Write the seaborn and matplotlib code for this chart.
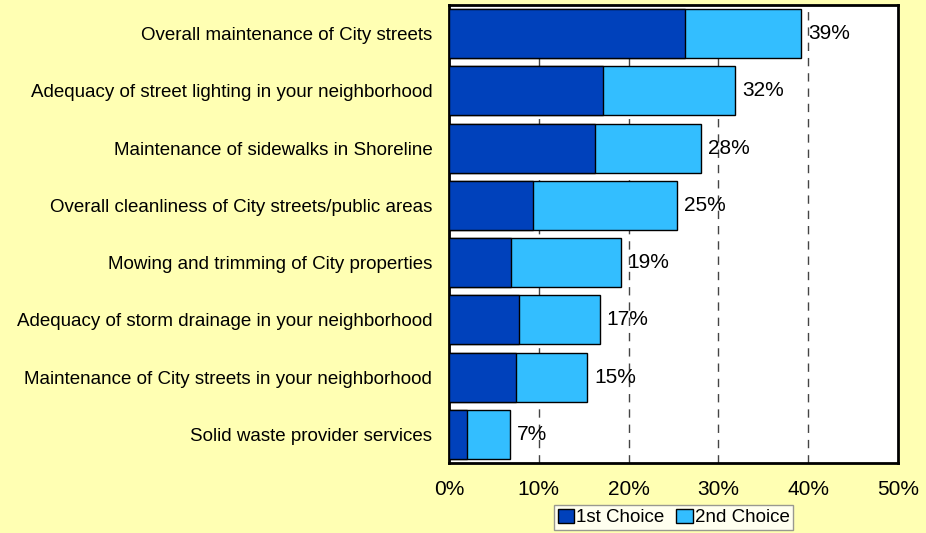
import numpy as np
import pandas as pd
import matplotlib
matplotlib.use('Agg')
import matplotlib.pyplot as plt
import seaborn as sns
from matplotlib.patches import Patch

sns.set_theme(style = 'white')
plt.rcParams['font.family'] = ['Liberation Sans', 'DejaVu Sans']
plt.rcParams['text.color'] = 'black'
plt.rcParams['xtick.color'] = 'black'
plt.rcParams['ytick.color'] = 'black'

categories = [
    'Overall maintenance of City streets',
    'Adequacy of street lighting in your neighborhood',
    'Maintenance of sidewalks in Shoreline',
    'Overall cleanliness of City streets/public areas',
    'Mowing and trimming of City properties',
    'Adequacy of storm drainage in your neighborhood',
    'Maintenance of City streets in your neighborhood',
    'Solid waste provider services',
]
first_choice = [26.3, 17.2, 16.3, 9.4, 6.9, 7.8, 7.5, 2.0]
second_choice = [12.9, 14.7, 11.8, 16.0, 12.2, 9.0, 7.9, 4.8]
x_ticks = [0, 10, 20, 30, 40, 50]

df = pd.DataFrame({'item': categories, 'first': first_choice, 'second': second_choice})
df['total'] = df['first'] + df['second']

bg = '#FFFFB3'
dark = '#0041BB'
light = '#33BEFF'

fig = plt.figure(figsize = (9.26, 5.33), dpi = 100, facecolor = bg)
ax = fig.add_axes([449 / 926, 1 - 463 / 533, 449 / 926, 458 / 533])
ax.set_facecolor('white')

for x in x_ticks[1:-1]:
    ax.axvline(x, color = '#444444', linestyle = (0, (6, 5)), linewidth = 1, zorder = 0)

sns.barplot(data = df, x = 'total', y = 'item', orient = 'h', color = light, saturation = 1,
            width = 0.86, edgecolor = 'black', linewidth = 1, ax = ax, zorder = 2)
sns.barplot(data = df, x = 'first', y = 'item', orient = 'h', color = dark, saturation = 1,
            width = 0.86, edgecolor = 'black', linewidth = 1, ax = ax, zorder = 3)

for i, t in enumerate(df['total']):
    ax.annotate(f'{round(t):.0f}%', xy = (t, i), xytext = (5, 0), textcoords = 'offset points',
                va = 'center', ha = 'left', fontsize = 15, color = 'black', zorder = 4)

ax.set_xlim(0, 50)
ax.set_ylim(len(categories) - 0.5, -0.5)
ax.set_xticks(x_ticks)
ax.set_xticklabels([f'{v}%' for v in x_ticks], fontsize = 15)
ax.tick_params(axis = 'x', length = 0, pad = 12, colors = 'black')
ax.tick_params(axis = 'y', length = 0, pad = 12, labelsize = 13.5, colors = 'black')
ax.set_xlabel('')
ax.set_ylabel('')
for s in ax.spines.values():
    s.set_color('black')
    s.set_linewidth(2)

handles = [Patch(facecolor = dark, edgecolor = 'black', label = '1st Choice'),
           Patch(facecolor = light, edgecolor = 'black', label = '2nd Choice')]
leg = fig.legend(handles = handles, loc = 'upper center', bbox_to_anchor = (673.5 / 926, 1 - 505 / 533),
                 ncol = 2, fontsize = 13.5, frameon = True, fancybox = False, borderpad = 0.2,
                 handlelength = 0.9, handleheight = 0.8, handletextpad = 0.1, columnspacing = 0.6,
                 borderaxespad = 0)
leg.get_frame().set_edgecolor('#808080')
leg.get_frame().set_linewidth(1)
leg.get_frame().set_facecolor('white')

fig.savefig('out.png', dpi = 100, facecolor = bg)
